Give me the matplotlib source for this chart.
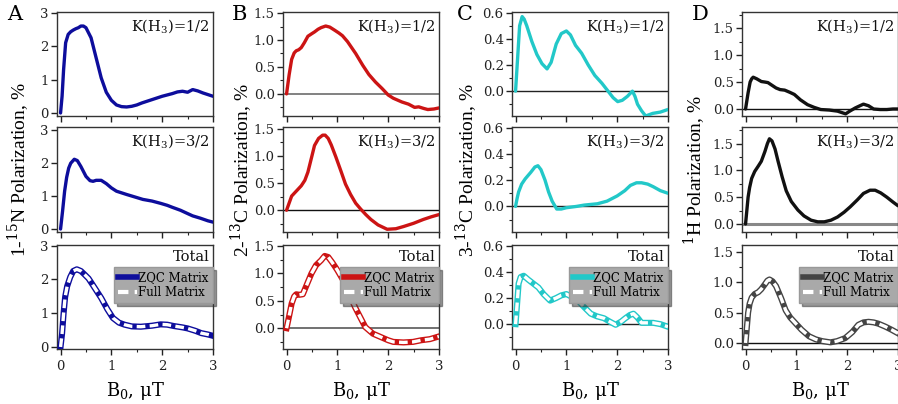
import matplotlib
matplotlib.use("Agg")
import matplotlib.pyplot as plt
from matplotlib.ticker import MultipleLocator, FormatStrFormatter

plt.rcParams['font.family'] = ['DejaVu Serif']
plt.rcParams['mathtext.fontset'] = 'dejavuserif'

# ---------------- data ----------------
a1_x = [0, 0.03, 0.06, 0.1, 0.15, 0.2, 0.25, 0.3, 0.35, 0.4, 0.45, 0.5, 0.6, 0.7, 0.8, 0.9, 1.0, 1.1, 1.2, 1.3, 1.4, 1.5, 1.6, 1.8, 2.0, 2.2, 2.3, 2.4, 2.5, 2.6, 2.7, 2.8, 2.9, 3.0]
a1_y = [0, 0.5, 1.3, 2.1, 2.35, 2.43, 2.48, 2.52, 2.55, 2.6, 2.6, 2.55, 2.25, 1.65, 1.05, 0.62, 0.38, 0.24, 0.19, 0.18, 0.2, 0.24, 0.3, 0.4, 0.5, 0.58, 0.63, 0.65, 0.62, 0.7, 0.66, 0.6, 0.55, 0.5]
a2_x = [0, 0.04, 0.08, 0.12, 0.16, 0.2, 0.27, 0.33, 0.4, 0.5, 0.58, 0.64, 0.7, 0.8, 0.9, 1.0, 1.1, 1.2, 1.3, 1.45, 1.62, 1.8, 1.97, 2.1, 2.2, 2.36, 2.5, 2.6, 2.75, 2.9, 3.0]
a2_y = [0, 0.55, 1.15, 1.57, 1.85, 2.0, 2.12, 2.08, 1.9, 1.6, 1.47, 1.45, 1.48, 1.48, 1.38, 1.25, 1.15, 1.1, 1.05, 0.98, 0.9, 0.85, 0.78, 0.72, 0.66, 0.57, 0.47, 0.4, 0.33, 0.25, 0.21]
a3_x = [0, 0.03, 0.06, 0.09, 0.13, 0.19, 0.25, 0.32, 0.4, 0.47, 0.55, 0.65, 0.8, 0.92, 1.03, 1.15, 1.26, 1.4, 1.58, 1.8, 1.97, 2.1, 2.23, 2.4, 2.5, 2.65, 2.77, 2.9, 3.0]
a3_y = [0, 0.4, 1.0, 1.48, 1.8, 2.07, 2.25, 2.3, 2.25, 2.15, 2.03, 1.8, 1.45, 1.12, 0.86, 0.72, 0.66, 0.61, 0.6, 0.63, 0.67, 0.66, 0.62, 0.58, 0.55, 0.48, 0.41, 0.37, 0.33]

b1_x = [0, 0.05, 0.1, 0.15, 0.19, 0.24, 0.29, 0.35, 0.42, 0.5, 0.55, 0.62, 0.68, 0.77, 0.85, 0.95, 1.03, 1.1, 1.2, 1.36, 1.5, 1.62, 1.75, 1.88, 2.0, 2.1, 2.27, 2.4, 2.52, 2.6, 2.7, 2.78, 2.9, 3.0]
b1_y = [0, 0.35, 0.64, 0.76, 0.8, 0.82, 0.86, 0.95, 1.07, 1.12, 1.15, 1.2, 1.23, 1.26, 1.24, 1.18, 1.13, 1.08, 0.97, 0.75, 0.53, 0.36, 0.22, 0.1, -0.02, -0.08, -0.15, -0.19, -0.25, -0.24, -0.27, -0.29, -0.28, -0.26]
b2_x = [0, 0.05, 0.1, 0.19, 0.29, 0.36, 0.42, 0.5, 0.55, 0.63, 0.71, 0.76, 0.82, 0.88, 0.97, 1.07, 1.16, 1.26, 1.36, 1.46, 1.56, 1.66, 1.8, 1.98, 2.15, 2.3, 2.5, 2.69, 2.85, 3.0]
b2_y = [0, 0.13, 0.26, 0.35, 0.45, 0.55, 0.7, 1.0, 1.19, 1.32, 1.38, 1.38, 1.32, 1.2, 0.98, 0.72, 0.48, 0.29, 0.13, 0.02, -0.08, -0.17, -0.27, -0.35, -0.34, -0.3, -0.24, -0.17, -0.12, -0.08]
b3_x = [0, 0.05, 0.1, 0.15, 0.19, 0.25, 0.32, 0.4, 0.49, 0.58, 0.68, 0.75, 0.82, 0.9, 1.0, 1.1, 1.2, 1.35, 1.55, 1.7, 1.85, 2.0, 2.1, 2.3, 2.49, 2.65, 2.82, 3.0]
b3_y = [0, 0.22, 0.45, 0.58, 0.62, 0.61, 0.62, 0.8, 1.0, 1.15, 1.24, 1.32, 1.3, 1.2, 1.06, 0.9, 0.7, 0.38, 0.02, -0.1, -0.16, -0.22, -0.25, -0.26, -0.25, -0.22, -0.2, -0.15]

c1_x = [0, 0.04, 0.08, 0.13, 0.17, 0.22, 0.32, 0.42, 0.52, 0.62, 0.7, 0.8, 0.9, 1.0, 1.08, 1.18, 1.3, 1.43, 1.56, 1.7, 1.82, 1.92, 2.01, 2.1, 2.2, 2.3, 2.35, 2.4, 2.48, 2.56, 2.7, 2.85, 3.0]
c1_y = [0, 0.25, 0.5, 0.57, 0.55, 0.5, 0.38, 0.28, 0.21, 0.17, 0.22, 0.36, 0.44, 0.46, 0.43, 0.35, 0.29, 0.2, 0.12, 0.06, 0.0, -0.05, -0.08, -0.07, -0.04, 0.0, -0.04, -0.1, -0.15, -0.19, -0.17, -0.16, -0.14]
c2_x = [0, 0.03, 0.06, 0.12, 0.19, 0.3, 0.38, 0.44, 0.5, 0.58, 0.65, 0.72, 0.81, 0.9, 1.0, 1.2, 1.35, 1.61, 1.8, 2.0, 2.15, 2.26, 2.38, 2.48, 2.6, 2.71, 2.85, 3.0]
c2_y = [0, 0.06, 0.11, 0.17, 0.21, 0.26, 0.3, 0.31, 0.28, 0.2, 0.11, 0.04, -0.02, -0.02, -0.01, 0.0, 0.01, 0.02, 0.04, 0.08, 0.12, 0.16, 0.18, 0.18, 0.17, 0.15, 0.12, 0.1]
c3_x = [0, 0.02, 0.06, 0.1, 0.16, 0.25, 0.35, 0.45, 0.55, 0.68, 0.8, 0.9, 1.0, 1.1, 1.23, 1.35, 1.48, 1.6, 1.74, 1.85, 1.97, 2.08, 2.16, 2.25, 2.32, 2.4, 2.48, 2.6, 2.71, 2.85, 3.0]
c3_y = [0, 0.1, 0.31, 0.36, 0.37, 0.34, 0.31, 0.28, 0.23, 0.18, 0.2, 0.22, 0.23, 0.21, 0.18, 0.13, 0.08, 0.06, 0.045, 0.02, -0.005, 0.02, 0.045, 0.07, 0.08, 0.05, 0.01, 0.01, 0.01, 0.0, -0.02]

d1_x = [0, 0.05, 0.09, 0.12, 0.15, 0.22, 0.31, 0.38, 0.44, 0.52, 0.6, 0.68, 0.77, 0.87, 0.96, 1.08, 1.22, 1.35, 1.48, 1.65, 1.81, 1.97, 2.05, 2.16, 2.25, 2.32, 2.42, 2.52, 2.65, 2.78, 2.9, 3.0]
d1_y = [0, 0.3, 0.5, 0.56, 0.59, 0.56, 0.51, 0.5, 0.49, 0.44, 0.39, 0.36, 0.35, 0.31, 0.27, 0.17, 0.08, 0.03, -0.01, -0.02, -0.04, -0.09, -0.04, 0.02, 0.06, 0.09, 0.06, 0.0, -0.01, -0.01, 0.0, 0.0]
d2_x = [0, 0.03, 0.05, 0.08, 0.12, 0.18, 0.25, 0.31, 0.38, 0.43, 0.47, 0.52, 0.58, 0.64, 0.72, 0.8, 0.9, 1.03, 1.15, 1.29, 1.42, 1.55, 1.68, 1.81, 1.94, 2.06, 2.2, 2.32, 2.45, 2.55, 2.66, 2.78, 2.9, 3.0]
d2_y = [0, 0.3, 0.5, 0.68, 0.85, 0.98, 1.08, 1.17, 1.35, 1.5, 1.59, 1.55, 1.4, 1.17, 0.88, 0.62, 0.42, 0.26, 0.15, 0.07, 0.04, 0.04, 0.07, 0.13, 0.22, 0.32, 0.45, 0.57, 0.63, 0.63, 0.58, 0.5, 0.41, 0.34]
d3_x = [0, 0.03, 0.05, 0.08, 0.12, 0.18, 0.25, 0.31, 0.38, 0.43, 0.47, 0.53, 0.6, 0.7, 0.79, 0.88, 0.99, 1.1, 1.25, 1.38, 1.51, 1.67, 1.8, 1.96, 2.1, 2.22, 2.32, 2.42, 2.52, 2.61, 2.75, 2.87, 3.0]
d3_y = [0, 0.3, 0.5, 0.65, 0.75, 0.81, 0.84, 0.89, 0.97, 1.03, 1.05, 1.02, 0.94, 0.74, 0.54, 0.42, 0.32, 0.22, 0.11, 0.06, 0.03, 0.01, 0.03, 0.08, 0.18, 0.3, 0.34, 0.35, 0.34, 0.32, 0.27, 0.22, 0.16]

panel_letters = ['A', 'B', 'C', 'D']
ylabels = ['1-$^{15}$N Polarization, %', '2-$^{13}$C Polarization, %',
           '3-$^{13}$C Polarization, %', '$^{1}$H Polarization, %']
xlabel = 'B$_{0}$, μT'
row_titles = ['K(H$_3$)=1/2', 'K(H$_3$)=3/2', 'Total']
legend_labels = ['ZQC Matrix', 'Full Matrix']

columns = [
    dict(color='#0d0d9c', data=[(a1_x, a1_y), (a2_x, a2_y), (a3_x, a3_y)],
         ylims=[(-0.09, 3.02), (-0.09, 3.1), (-0.06, 3.02)], major=1, minor=None,
         fmt='%d', zero=[None, None, None]),
    dict(color='#cc1414', data=[(b1_x, b1_y), (b2_x, b2_y), (b3_x, b3_y)],
         ylims=[(-0.41, 1.52), (-0.4, 1.53), (-0.38, 1.52)], major=0.5, minor=0.25,
         fmt='%.1f', zero=[('#777777', 1.3), ('#111111', 1.0), ('#666666', 1.3)]),
    dict(color='#22c8c8', data=[(c1_x, c1_y), (c2_x, c2_y), (c3_x, c3_y)],
         ylims=[(-0.19, 0.605), (-0.195, 0.605), (-0.19, 0.605)], major=0.2, minor=0.1,
         fmt='%.1f', zero=[('#222222', 1.0), ('#222222', 1.0), ('#222222', 1.0)]),
    dict(color='#111111', data=[(d1_x, d1_y), (d2_x, d2_y), (d3_x, d3_y)],
         ylims=[(-0.13, 1.8), (-0.15, 1.81), (-0.1, 1.62)], major=0.5, minor=0.25,
         fmt='%.1f', zero=[('#111111', 1.0), ('#888888', 2.2), ('#111111', 1.0)]),
]

W, H = 898, 404
fig = plt.figure(figsize=(W / 100, H / 100), dpi=100)

col_left = [57, 283, 512, 742]
col_w = 156
rows = [(12, 116), (127, 232), (245, 349)]
letter_x = [7, 232, 457, 692]
ylabel_x = [19, 242, 467, 695]

for ci, col in enumerate(columns):
    for ri, (top, bot) in enumerate(rows):
        ax = fig.add_axes([col_left[ci] / W, 1 - bot / H, col_w / W, (bot - top) / H])
        x, y = col['data'][ri]
        z = col['zero'][ri]
        if z is not None:
            ax.axhline(0, color=z[0], lw=z[1], zorder=1)
        if ri < 2:
            ax.plot(x, y, color=col['color'], lw=2.4, solid_joinstyle='round',
                    solid_capstyle='round', zorder=3)
        else:
            lc = '#444444' if ci == 3 else col['color']
            ax.plot(x, y, color=lc, lw=4.4, solid_joinstyle='round', zorder=3)
            ax.plot(x, y, color='white', lw=2.4, ls=(0, (2.6, 1.3)), zorder=4)
            h1 = plt.Line2D([], [], color=lc, lw=4)
            h2 = plt.Line2D([], [], color='white', lw=3, ls=(0, (2.5, 1.5)))
            leg = ax.legend([h1, h2], legend_labels, loc='upper right',
                            bbox_to_anchor=(1.0, 0.79), borderaxespad=0.0,
                            fontsize=8.5, frameon=True, fancybox=False, shadow=True,
                            facecolor='#a9a9a9', edgecolor='#999999', framealpha=1,
                            handlelength=1.6, handletextpad=0.1, labelspacing=0.2,
                            borderpad=0.35)
            leg.get_frame().set_linewidth(1.0)
        ax.set_xlim(-0.07, 3.0)
        ax.set_ylim(*col['ylims'][ri])
        ax.xaxis.set_major_locator(MultipleLocator(1))
        ax.xaxis.set_minor_locator(MultipleLocator(0.5))
        ax.yaxis.set_major_locator(MultipleLocator(col['major']))
        if col['minor']:
            ax.yaxis.set_minor_locator(MultipleLocator(col['minor']))
        ax.yaxis.set_major_formatter(FormatStrFormatter(col['fmt']))
        ax.tick_params(axis='both', which='major', direction='out', length=4,
                       width=1, labelsize=9.5, pad=2, colors='#222222')
        ax.tick_params(axis='both', which='minor', direction='out', length=2.5,
                       width=0.8, colors='#222222')
        ax.tick_params(axis='x', pad=4.0)
        if ri < 2:
            ax.tick_params(axis='x', labelbottom=False)
        for sp in ax.spines.values():
            sp.set_color('#333333')
            sp.set_linewidth(1.0)
        ax.text(0.98, 0.95, row_titles[ri], transform=ax.transAxes, ha='right',
                va='top', fontsize=10.5, color='#111111')

    fig.text(letter_x[ci] / W, 1 - 5 / H, panel_letters[ci], fontsize=15,
             ha='left', va='top')
    fig.text(ylabel_x[ci] / W, 1 - 170 / H, ylabels[ci], rotation=90, ha='center',
             va='center', fontsize=14, family=['Liberation Serif'])
    fig.text((col_left[ci] + col_w / 2) / W, 1 - 391 / H, xlabel, ha='center',
             va='center', fontsize=13)

fig.savefig('out.png', dpi=100)
